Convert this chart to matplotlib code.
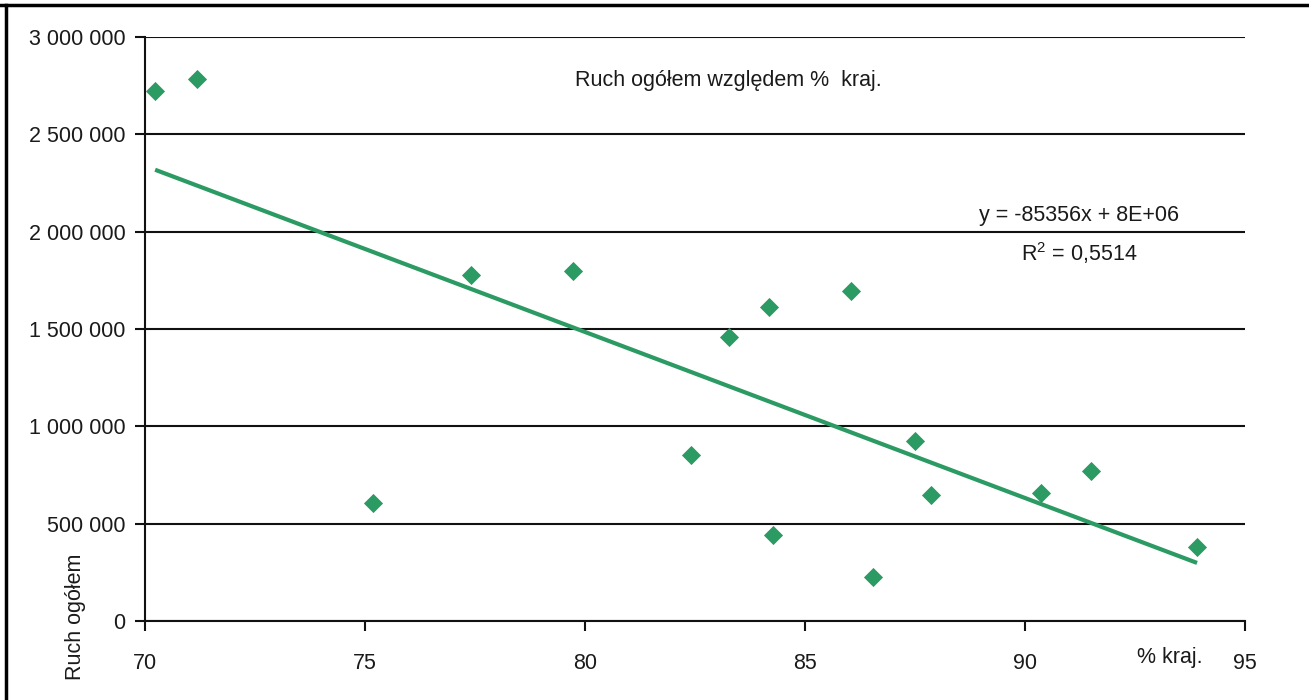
import numpy as np
import matplotlib
matplotlib.use("Agg")
import matplotlib.pyplot as plt
from matplotlib import font_manager
from matplotlib.lines import Line2D
from matplotlib.ticker import FuncFormatter

# ---- data ----
pct_kraj = [70.23, 71.18, 75.18, 77.41, 79.73, 82.41, 83.27, 84.18, 84.27,
            86.05, 86.55, 87.50, 87.86, 90.36, 91.50, 93.91]
ruch_ogolem = [2722000, 2784000, 606000, 1777000, 1798000, 853000, 1459000,
               1613000, 442000, 1695000, 226000, 925000, 647000, 658000,
               771000, 380000]
x_ticks = [70, 75, 80, 85, 90, 95]
y_ticks = [0, 500000, 1000000, 1500000, 2000000, 2500000, 3000000]
title_text = "Ruch ogółem względem %  kraj."
eq_text = "y = -85356x + 8E+06"
r2_text = "R$^2$ = 0,5514"
xlabel_text = "% kraj."
ylabel_text = "Ruch ogółem"

# ---- fonts ----
names = {f.name for f in font_manager.fontManager.ttflist}
if "Liberation Sans Narrow" in names:
    fam = ["Liberation Sans Narrow", "DejaVu Sans"]
    fs = 17
else:
    fam = ["Liberation Sans", "DejaVu Sans"]
    fs = 15.5
plt.rcParams["font.family"] = fam
plt.rcParams["mathtext.fontset"] = "custom"
plt.rcParams["mathtext.rm"] = fam[0]

green = "#2b9a63"
txt = "#1a1a1a"

fig = plt.figure(figsize=(13.09, 7.0), dpi=100)
ax = fig.add_axes([145/1309, 1-621/700, 1100/1309, 584/700])

x = np.array(pct_kraj)
y = np.array(ruch_ogolem)
ax.scatter(x, y, marker="D", s=95, color=green, zorder=4, linewidths=0)

coef = np.polyfit(x, y, 1)
xl = np.array([x.min(), x.max()])
ax.plot(xl, np.polyval(coef, xl), color=green, lw=3, zorder=3, solid_capstyle="butt")

ax.set_xlim(70, 95)
ax.set_ylim(0, 3000000)
ax.set_xticks(x_ticks)
ax.set_yticks(y_ticks)
ax.yaxis.set_major_formatter(FuncFormatter(lambda v, p: f"{int(v):,}".replace(",", " ")))
for v in y_ticks:
    ax.axhline(v, color="#111111", lw=1.5, zorder=1)

for s in ["top", "right"]:
    ax.spines[s].set_visible(False)
for s in ["left", "bottom"]:
    ax.spines[s].set_linewidth(1.5)
    ax.spines[s].set_color("#111111")
ax.tick_params(axis="both", direction="out", length=7, width=1.5, color="#111111",
               labelsize=fs, labelcolor=txt)
ax.tick_params(axis="y", pad=7)
ax.tick_params(axis="x", pad=16)

ax.text(0.53, 0.925, title_text, transform=ax.transAxes, ha="center", va="center",
        fontsize=fs, color=txt)
ax.text(0.849, 0.695, eq_text, transform=ax.transAxes, ha="center", va="center",
        fontsize=fs, color=txt)
ax.text(0.849, 0.630, r2_text, transform=ax.transAxes, ha="center", va="center",
        fontsize=fs, color=txt)

fig.text(1170/1309, 1-657/700, xlabel_text, ha="center", va="center",
         fontsize=fs, color=txt)
fig.text(76/1309, 1-617/700, ylabel_text, ha="center", va="center", rotation=90,
         fontsize=fs, color=txt)

# outer frame (top and left edges visible)
fig.add_artist(Line2D([0, 1], [1-5/700, 1-5/700], transform=fig.transFigure,
                      color="black", lw=2.5))
fig.add_artist(Line2D([6/1309, 6/1309], [0, 1-5/700], transform=fig.transFigure,
                      color="black", lw=2.5))

fig.savefig("out.png", dpi=100)
